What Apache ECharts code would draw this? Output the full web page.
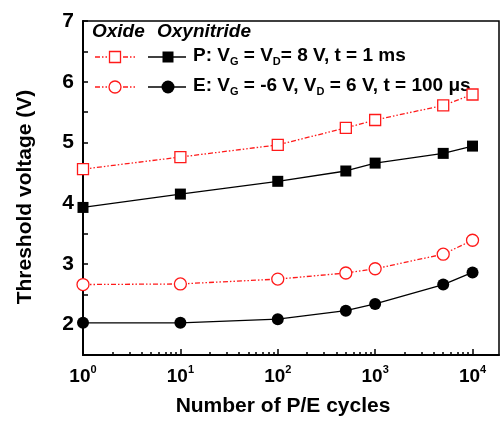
<!DOCTYPE html>
<html>
<head>
<meta charset="utf-8">
<script src="https://cdn.jsdelivr.net/npm/echarts@6/dist/echarts.min.js"></script>
<style>
  html, body { margin: 0; padding: 0; background: #fff; }
  #chart { width: 502px; height: 423px; }
</style>
</head>
<body>
<div id="chart"></div>
<script>
// P/E cycle counts
const cycles = [1, 10, 100, 500, 1000, 5000, 10000];
// Threshold voltage (V) after programming / erasing
const oxideProgram = [4.56, 4.76, 4.96, 5.24, 5.37, 5.61, 5.79];
const oxynitrideProgram = [3.93, 4.15, 4.36, 4.53, 4.66, 4.82, 4.94];
const oxideErase = [2.66, 2.67, 2.75, 2.85, 2.92, 3.16, 3.39];
const oxynitrideErase = [2.03, 2.03, 2.09, 2.23, 2.34, 2.66, 2.86];
// Axis ticks
const majorTicks = [1, 10, 100, 1000, 10000];
const minorTicks = [];
[1, 10, 100, 1000].forEach(function (d) {
  for (let k = 2; k <= 9; k++) minorTicks.push(k * d);
});

const FONT = '"Liberation Sans", Arial, sans-serif';
const RED = '#ff1a1a';
const DASH_DOT_DOT = [5, 2, 1.5, 2, 1.5, 2];

function pairs(ys) { return cycles.map(function (c, i) { return [c, ys[i]]; }); }

const chart = echarts.init(document.getElementById('chart'), null, { renderer: 'canvas' });

const xRange = { min: 1, max: 18700 };

const option = {
  backgroundColor: '#fff',
  animation: false,
  grid: {
    left: 83, top: 21, right: 3, bottom: 68,
    show: true, borderColor: '#000', borderWidth: 1.5, backgroundColor: 'transparent'
  },
  xAxis: [
    {
      type: 'log', logBase: 10, min: xRange.min, max: xRange.max,
      position: 'bottom',
      name: 'Number of P/E cycles', nameLocation: 'middle', nameGap: 41,
      nameTextStyle: { fontFamily: FONT, fontWeight: 'bold', fontSize: 21, color: '#000', padding: [0, 16, 0, 0] },
      axisLine: { show: true, lineStyle: { color: '#000', width: 2 } },
      axisTick: { show: true, inside: true, length: 6, lineStyle: { color: '#000', width: 1.5 }, customValues: majorTicks },
      splitLine: { show: false },
      minorTick: { show: false },
      axisLabel: {
        customValues: majorTicks,
        margin: 9,
        formatter: function (v) {
          const e = Math.round(Math.log10(v));
          return '{b|10}{s|' + e + '}';
        },
        rich: {
          b: { fontFamily: FONT, fontWeight: 'bold', fontSize: 19, color: '#000', verticalAlign: 'bottom', lineHeight: 22 },
          s: { fontFamily: FONT, fontWeight: 'bold', fontSize: 11, color: '#000', verticalAlign: 'top', lineHeight: 22 }
        }
      }
    },
    {
      // minor decade ticks
      type: 'log', logBase: 10, min: xRange.min, max: xRange.max,
      position: 'bottom',
      axisLine: { show: false },
      axisTick: { show: true, inside: true, length: 3, lineStyle: { color: '#000', width: 1.5 }, customValues: minorTicks },
      axisLabel: { show: false },
      splitLine: { show: false }
    }
  ],
  yAxis: {
    type: 'value', min: 1.5, max: 7, interval: 0.5,
    name: 'Threshold voltage (V)', nameLocation: 'middle', nameGap: 47,
    nameTextStyle: { fontFamily: FONT, fontWeight: 'bold', fontSize: 21, color: '#000', padding: [0, 18, 0, 0] },
    axisLine: { show: true, lineStyle: { color: '#000', width: 2 } },
    axisTick: { show: true, inside: true, length: 5, lineStyle: { color: '#000', width: 1.5 } },
    splitLine: { show: false },
    axisLabel: {
      margin: 9,
      fontFamily: FONT, fontWeight: 'bold', fontSize: 21, color: '#000',
      formatter: function (v) { return Number.isInteger(v) && v >= 2 ? String(v) : ''; }
    }
  },
  series: [
    {
      name: 'Oxide P', type: 'line', data: pairs(oxideProgram),
      symbol: 'rect', symbolSize: 11, showAllSymbol: true,
      itemStyle: { color: '#fff', borderColor: RED, borderWidth: 1.3 },
      lineStyle: { color: RED, width: 1.3, type: DASH_DOT_DOT }, z: 3
    },
    {
      name: 'Oxynitride P', type: 'line', data: pairs(oxynitrideProgram),
      symbol: 'rect', symbolSize: 11, showAllSymbol: true,
      itemStyle: { color: '#000' },
      lineStyle: { color: '#000', width: 1.3 }, z: 3
    },
    {
      name: 'Oxide E', type: 'line', data: pairs(oxideErase),
      symbol: 'circle', symbolSize: 12, showAllSymbol: true,
      itemStyle: { color: '#fff', borderColor: RED, borderWidth: 1.3 },
      lineStyle: { color: RED, width: 1.3, type: DASH_DOT_DOT }, z: 3
    },
    {
      name: 'Oxynitride E', type: 'line', data: pairs(oxynitrideErase),
      symbol: 'circle', symbolSize: 12, showAllSymbol: true,
      itemStyle: { color: '#000' },
      lineStyle: { color: '#000', width: 1.3 }, z: 3
    }
  ],
  graphic: (function () {
    const g = [];
    const headStyle = { fontFamily: FONT, fontWeight: 'bold', fontStyle: 'italic', fontSize: 19, fill: '#000' };
    g.push({ type: 'text', left: 92, top: 22, style: Object.assign({ text: 'Oxide' }, headStyle) });
    g.push({ type: 'text', left: 157, top: 22, style: Object.assign({ text: 'Oxynitride' }, headStyle) });
    const rows = [{ y: 57, sym: 'rect' }, { y: 87, sym: 'circle' }];
    rows.forEach(function (r) {
      g.push({ type: 'line', shape: { x1: 95, y1: r.y, x2: 137, y2: r.y }, style: { stroke: RED, lineWidth: 1.3, lineDash: DASH_DOT_DOT } });
      g.push({ type: 'line', shape: { x1: 148, y1: r.y, x2: 186, y2: r.y }, style: { stroke: '#000', lineWidth: 1.3 } });
      if (r.sym === 'rect') {
        g.push({ type: 'rect', shape: { x: 109.5, y: r.y - 5.5, width: 11, height: 11 }, style: { fill: '#fff', stroke: RED, lineWidth: 1.3 } });
        g.push({ type: 'rect', shape: { x: 162.5, y: r.y - 5.5, width: 11, height: 11 }, style: { fill: '#000' } });
      } else {
        g.push({ type: 'circle', shape: { cx: 115, cy: r.y, r: 6 }, style: { fill: '#fff', stroke: RED, lineWidth: 1.3 } });
        g.push({ type: 'circle', shape: { cx: 168, cy: r.y, r: 6.5 }, style: { fill: '#000' } });
      }
    });
    const rich = {
      m: { fontFamily: FONT, fontWeight: 'bold', fontSize: 19, fill: '#000', verticalAlign: 'middle', lineHeight: 22 },
      sub: { fontFamily: FONT, fontWeight: 'bold', fontSize: 11, fill: '#000', verticalAlign: 'bottom', lineHeight: 14, padding: [11, 0, 0, 0] }
    };
    g.push({ type: 'text', left: 193, top: 45, style: { text: '{m|P: V}{sub|G}{m| = V}{sub|D}{m|= 8 V, t = 1 ms}', rich: rich } });
    g.push({ type: 'text', left: 193, top: 75, style: { text: '{m|E: V}{sub|G}{m| = -6 V, V}{sub|D}{m| = 6 V, t = 100 μs}', rich: rich } });
    return g;
  })()
};

chart.setOption(option);
</script>
</body>
</html>
